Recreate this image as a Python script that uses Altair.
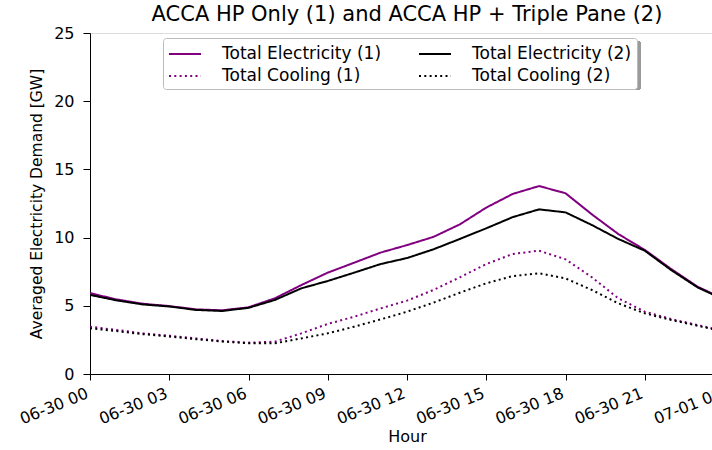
import altair as alt
import pandas as pd

hours = list(range(25))
elec1 = [5.93, 5.47, 5.15, 4.98, 4.74, 4.67, 4.89, 5.55, 6.52, 7.43, 8.16, 8.9, 9.45, 10.05, 10.97, 12.2, 13.2, 13.78, 13.25, 11.7, 10.26, 9.1, 7.7, 6.4, 5.5]
elec2 = [5.8, 5.4, 5.1, 4.95, 4.7, 4.62, 4.85, 5.43, 6.28, 6.82, 7.43, 8.06, 8.5, 9.14, 9.9, 10.68, 11.5, 12.07, 11.85, 10.92, 9.9, 9.04, 7.62, 6.35, 5.45]
cool1 = [3.47, 3.23, 2.98, 2.81, 2.61, 2.42, 2.3, 2.37, 2.98, 3.67, 4.2, 4.81, 5.38, 6.16, 7.09, 8.06, 8.8, 9.04, 8.41, 7.09, 5.55, 4.57, 4.03, 3.59, 3.15]
cool2 = [3.35, 3.15, 2.92, 2.75, 2.55, 2.38, 2.25, 2.25, 2.61, 2.98, 3.47, 4.0, 4.57, 5.23, 5.96, 6.65, 7.18, 7.38, 7.01, 6.16, 5.18, 4.45, 3.96, 3.54, 3.1]

series_names = ["Total Electricity (1)", "Total Electricity (2)", "Total Cooling (1)", "Total Cooling (2)"]
series_colors = ["#800080", "#000000", "#800080", "#000000"]
series_dashes = [[1, 0], [1, 0], [2, 3.3], [2, 3.3]]
tick_hours = [0, 3, 6, 9, 12, 15, 18, 21, 24]
tick_labels = ["06-30 00", "06-30 03", "06-30 06", "06-30 09", "06-30 12",
               "06-30 15", "06-30 18", "06-30 21", "07-01 00"]

rows = []
for name, vals in zip(series_names, [elec1, elec2, cool1, cool2]):
    for h, v in zip(hours, vals):
        rows.append({"hour": h, "value": v, "series": name})
df = pd.DataFrame(rows)

# legend is filled column by column: reorder so rows read E1 E2 / C1 C2
legend_order = [0, 2, 1, 3]
dom = [series_names[i] for i in legend_order]
col_range = [series_colors[i] for i in legend_order]
dash_range = [series_dashes[i] for i in legend_order]

label_expr = "[" + ",".join("'" + t + "'" for t in tick_labels) + "][round(datum.value/3)]"

FONT = "DejaVu Sans"
W, H = 634, 341

lines = alt.Chart(df).mark_line(strokeWidth=2, clip=True).encode(
    x=alt.X("hour:Q", title="Hour",
            scale=alt.Scale(domain=[0, 24], nice=False, zero=False),
            axis=alt.Axis(values=tick_hours, labelExpr=label_expr, labelAngle=338,
                          labelAlign="right", labelBaseline="top", labelFontSize=16,
                          labelFont=FONT, labelColor="black", titleFont=FONT,
                          titleFontSize=16, titleFontWeight="normal", titleColor="black",
                          tickColor="black", domainColor="black", tickSize=6,
                          labelPadding=5, labelOffset=-6, titlePadding=2, grid=False,
                          labelOverlap=False, labelFlush=False)),
    y=alt.Y("value:Q", title="Averaged Electricity Demand [GW]",
            scale=alt.Scale(domain=[0, 25], nice=False),
            axis=alt.Axis(values=[0, 5, 10, 15, 20, 25], labelFontSize=16, labelFont=FONT,
                          labelColor="black", titleFont=FONT,
                          titleFontSize=15.5, titleFontWeight="normal", titleColor="black",
                          tickColor="black", domainColor="black", tickSize=7,
                          labelPadding=9, titlePadding=9, grid=False)),
    color=alt.Color("series:N", sort=dom,
                    scale=alt.Scale(domain=dom, range=col_range),
                    legend=alt.Legend(title=None, orient="none", legendX=73, legendY=5,
                                      columns=2, columnPadding=33, rowPadding=3,
                                      symbolType="M-1,0L2.2,0", symbolSize=400,
                                      symbolStrokeWidth=2,
                                      labelFontSize=17, labelFont=FONT, labelColor="black",
                                      fillColor="white", strokeColor="#bbbbbb", cornerRadius=3,
                                      padding=5, labelOffset=32)),
    strokeDash=alt.StrokeDash("series:N", sort=dom,
                              scale=alt.Scale(domain=dom, range=dash_range)),
)

legend_shadow = alt.Chart(df).mark_rect(color="#9a9a9a", cornerRadius=3).encode(
    x=alt.value(76), x2=alt.value(551), y=alt.value(8), y2=alt.value(57)
)

chart = alt.layer(legend_shadow, lines).properties(
    width=W, height=H,
    title=alt.TitleParams("ACCA HP Only (1) and ACCA HP + Triple Pane (2)", font=FONT,
                          fontSize=21, fontWeight="normal", color="black", offset=0),
    autosize=alt.AutoSizeParams(type="none"),
    padding={"left": 90, "top": 33, "right": -12, "bottom": 76},
).configure_view(stroke="black", strokeWidth=1).configure(background="white")

chart.save("out.html", embed_options={"renderer": "svg", "actions": False})
